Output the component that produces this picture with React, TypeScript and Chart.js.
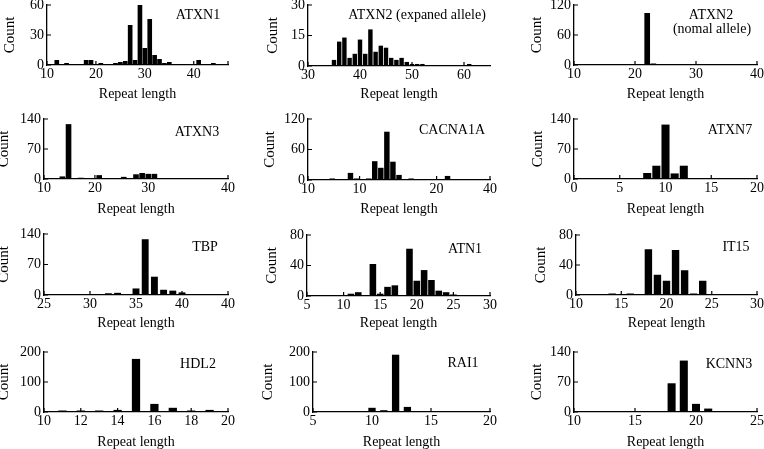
import React, { useEffect, useRef } from 'react';
import { Chart, registerables } from 'chart.js';
Chart.register(...registerables);

// ---------------- data ----------------
const atxn1Len = [12, 14, 18, 19, 21, 24, 25, 26, 27, 28, 29, 30, 31, 32, 33, 34, 35, 41, 44];
const atxn1Cnt = [5, 2, 5, 5, 2, 2, 3, 4, 40, 5, 60, 17, 46, 10, 6, 2, 3, 5, 2];

const atxn2eLen = [35, 36, 37, 38, 39, 40, 41, 42, 43, 44, 45, 46, 47, 48, 49, 50, 51, 52, 61];
const atxn2eCnt = [3, 12, 14, 4, 6, 13, 6, 18, 7, 10, 9, 4, 3, 4, 2, 1, 1, 1, 1];

const atxn2nLen = [15, 16, 17, 18, 19, 21, 22, 23, 26];
const atxn2nCnt = [2, 2, 1, 1, 2, 1, 104, 3, 1];

const atxn3Len = [13, 14, 16, 19, 20, 23, 25, 26, 27, 28, 31, 34, 36];
const atxn3Cnt = [6, 128, 3, 9, 2, 5, 11, 14, 12, 12, 2, 2, 2];

const cacnaLen = [4, 7, 8, 9, 10, 11, 12, 13, 14, 15, 17, 22, 23, 25];
const cacnaCnt = [3, 14, 3, 2, 3, 37, 24, 95, 36, 10, 3, 2, 8, 2];

const atxn7Len = [8, 9, 10, 11, 12, 13];
const atxn7Cnt = [14, 31, 127, 13, 31, 2];

const tbpLen = [27, 31, 32, 33, 34, 35, 36, 37, 38, 39, 40, 41, 42];
const tbpCnt = [1, 1, 4, 5, 1, 15, 128, 42, 12, 10, 6, 2, 2];

const atn1Len = [11, 12, 14, 15, 16, 17, 18, 19, 20, 21, 22, 23, 24, 25];
const atn1Cnt = [3, 5, 42, 3, 12, 14, 1, 62, 20, 34, 21, 7, 5, 2];

const it15Len = [13, 14, 16, 17, 18, 19, 20, 21, 22, 23, 24, 25, 27, 28];
const it15Cnt = [1, 2, 2, 1, 61, 27, 19, 60, 33, 2, 19, 1, 1, 1];

const hdl2Len = [11, 12, 13, 14, 15, 16, 17, 18, 19];
const hdl2Cnt = [5, 5, 5, 7, 177, 27, 14, 5, 7];

const rai1Len = [9, 10, 11, 12, 13, 18];
const rai1Cnt = [1, 14, 6, 191, 17, 1];

const kcnn3Len = [12, 13, 14, 17, 18, 19, 20, 21, 22];
const kcnn3Cnt = [1, 1, 1, 1, 67, 120, 19, 8, 2];

// tick positions (axis values) and the label printed at each, as in the source figure
const atxn1XTicks = [10, 20, 30, 40, 47];
const atxn1XLabels = ['10', '20', '30', '40', ''];
const atxn2eXTicks = [30, 40, 50, 60];
const atxn2eXLabels = ['30', '40', '50', '60'];
const atxn2nXTicks = [10, 20, 30, 40];
const atxn2nXLabels = ['10', '20', '30', '40'];
const atxn3XTicks = [10, 18.3, 27, 40];
const atxn3XLabels = ['10', '20', '30', '40'];
const cacnaXTicks = [0, 8.5, 21.2, 30];
const cacnaXLabels = ['10', '10', '20', '40'];
const atxn7XTicks = [0, 5, 10, 15, 20];
const atxn7XLabels = ['0', '5', '10', '15', '20'];
const tbpXTicks = [25, 30, 35, 40, 45];
const tbpXLabels = ['25', '30', '35', '40', '40'];
const atn1XTicks = [5, 10, 15, 20, 25, 30];
const atn1XLabels = ['5', '10', '15', '20', '25', '30'];
const it15XTicks = [10, 15, 20, 25, 30];
const it15XLabels = ['10', '15', '20', '25', '30'];
const hdl2XTicks = [10, 12, 14, 16, 18, 20];
const hdl2XLabels = ['10', '12', '14', '16', '18', '20'];
const rai1XTicks = [5, 10, 15, 20];
const rai1XLabels = ['5', '10', '15', '20'];
const kcnn3XTicks = [10, 15, 20, 25];
const kcnn3XLabels = ['10', '15', '20', '25'];

const xTitle = 'Repeat length';
const yTitle = 'Count';

// ---------------- panels ----------------
type Panel = {
  name: string[];
  len: number[];
  cnt: number[];
  xMin: number;
  xMax: number;
  xTicks: number[];
  xLabels: string[];
  yMax: number;
  bar: number;
  // layout (absolute page pixels)
  g: { ax: number; right: number; top: number; bottom: number; cx: number; ty: number; lx: number[]; ly: number[] };
};

const panels: Panel[] = [
  { name: ['ATXN1'], len: atxn1Len, cnt: atxn1Cnt, xMin: 10, xMax: 47, xTicks: atxn1XTicks, xLabels: atxn1XLabels, yMax: 60, bar: 0.95,
    g: { ax: 47, right: 228, top: 5, bottom: 65, cx: 10, ty: 94, lx: [198], ly: [15] } },
  { name: ['ATXN2 (expaned allele)'], len: atxn2eLen, cnt: atxn2eCnt, xMin: 30, xMax: 65, xTicks: atxn2eXTicks, xLabels: atxn2eXLabels, yMax: 30, bar: 0.85,
    g: { ax: 308, right: 490, top: 5, bottom: 66, cx: 273, ty: 94, lx: [417], ly: [15] } },
  { name: ['ATXN2', '(nomal allele)'], len: atxn2nLen, cnt: atxn2nCnt, xMin: 10, xMax: 40, xTicks: atxn2nXTicks, xLabels: atxn2nXLabels, yMax: 120, bar: 0.93,
    g: { ax: 574, right: 757, top: 5, bottom: 65, cx: 537, ty: 94, lx: [711, 712], ly: [15, 29] } },
  { name: ['ATXN3'], len: atxn3Len, cnt: atxn3Cnt, xMin: 10, xMax: 40, xTicks: atxn3XTicks, xLabels: atxn3XLabels, yMax: 140, bar: 0.92,
    g: { ax: 44, right: 228, top: 119, bottom: 179, cx: 4, ty: 209, lx: [197], ly: [132] } },
  { name: ['CACNA1A'], len: cacnaLen, cnt: cacnaCnt, xMin: 0, xMax: 30, xTicks: cacnaXTicks, xLabels: cacnaXLabels, yMax: 120, bar: 0.9,
    g: { ax: 308, right: 490, top: 119, bottom: 180, cx: 270, ty: 209, lx: [452], ly: [130] } },
  { name: ['ATXN7'], len: atxn7Len, cnt: atxn7Cnt, xMin: 0, xMax: 20, xTicks: atxn7XTicks, xLabels: atxn7XLabels, yMax: 140, bar: 0.88,
    g: { ax: 574, right: 757, top: 119, bottom: 179, cx: 538, ty: 209, lx: [730], ly: [130] } },
  { name: ['TBP'], len: tbpLen, cnt: tbpCnt, xMin: 25, xMax: 45, xTicks: tbpXTicks, xLabels: tbpXLabels, yMax: 140, bar: 0.75,
    g: { ax: 44, right: 228, top: 234, bottom: 295, cx: 4, ty: 323, lx: [205], ly: [247] } },
  { name: ['ATN1'], len: atn1Len, cnt: atn1Cnt, xMin: 5, xMax: 30, xTicks: atn1XTicks, xLabels: atn1XLabels, yMax: 80, bar: 0.9,
    g: { ax: 307, right: 490, top: 235, bottom: 296, cx: 272, ty: 323, lx: [465], ly: [249] } },
  { name: ['IT15'], len: it15Len, cnt: it15Cnt, xMin: 10, xMax: 30, xTicks: it15XTicks, xLabels: it15XLabels, yMax: 80, bar: 0.82,
    g: { ax: 576, right: 757, top: 235, bottom: 295, cx: 541, ty: 323, lx: [736], ly: [247] } },
  { name: ['HDL2'], len: hdl2Len, cnt: hdl2Cnt, xMin: 10, xMax: 20, xTicks: hdl2XTicks, xLabels: hdl2XLabels, yMax: 200, bar: 0.45,
    g: { ax: 44, right: 228, top: 352, bottom: 412, cx: 4, ty: 442, lx: [198], ly: [364] } },
  { name: ['RAI1'], len: rai1Len, cnt: rai1Cnt, xMin: 5, xMax: 20, xTicks: rai1XTicks, xLabels: rai1XLabels, yMax: 200, bar: 0.62,
    g: { ax: 313, right: 490, top: 352, bottom: 412, cx: 268, ty: 442, lx: [463], ly: [363] } },
  { name: ['KCNN3'], len: kcnn3Len, cnt: kcnn3Cnt, xMin: 10, xMax: 25, xTicks: kcnn3XTicks, xLabels: kcnn3XLabels, yMax: 140, bar: 0.66,
    g: { ax: 574, right: 757, top: 352, bottom: 412, cx: 537, ty: 442, lx: [729], ly: [364] } },
];

const FAMILY = "'Liberation Serif', 'Times New Roman', Times, serif";
const TICK_FONT = { family: FAMILY, size: 14 };
const XT_FONT = { family: FAMILY, size: 14 };
const YT_FONT = { family: FAMILY, size: 15 };
const NAME_FONT = `14px ${FAMILY}`;

function geometry(p: Panel) {
  const left = Math.round(p.g.cx - 9);
  const top = p.g.top - 14;
  const bottom = Math.round(p.g.ty + 11);
  const right = p.g.right + 14;
  return { left, top, width: right - left, height: bottom - top };
}

const innerTicks = {
  id: 'innerTicks',
  afterDatasetsDraw(chart: any) {
    const { ctx, scales } = chart;
    const x = scales.x;
    const y = scales.y;
    ctx.save();
    ctx.strokeStyle = '#000';
    ctx.lineWidth = 1.2;
    ctx.beginPath();
    x.ticks.forEach((t: any) => {
      const px = x.getPixelForValue(t.value);
      ctx.moveTo(px, y.bottom);
      ctx.lineTo(px, y.bottom - 4);
    });
    y.ticks.forEach((t: any) => {
      const py = y.getPixelForValue(t.value);
      ctx.moveTo(x.left, py);
      ctx.lineTo(x.left + 4, py);
    });
    ctx.stroke();
    ctx.restore();
  },
};

function PanelChart({ p }: { p: Panel }) {
  const ref = useRef<HTMLCanvasElement | null>(null);
  const geo = geometry(p);
  useEffect(() => {
    if (!ref.current) return;
    const padTop = p.g.top - geo.top;
    const padRight = geo.left + geo.width - p.g.right;
    const yWidth = p.g.ax - geo.left;
    const xHeight = geo.top + geo.height - p.g.bottom;
    const namePlugin = {
      id: 'nameLabel',
      afterDraw(chart: any) {
        const ctx = chart.ctx;
        ctx.save();
        ctx.fillStyle = '#000';
        ctx.font = NAME_FONT;
        ctx.textAlign = 'center';
        ctx.textBaseline = 'middle';
        p.name.forEach((line, i) => {
          ctx.fillText(line, p.g.lx[i] - geo.left, p.g.ly[i] - geo.top);
        });
        ctx.restore();
      },
    };
    const chart = new Chart(ref.current, {
      type: 'bar',
      data: {
        datasets: [
          {
            data: p.len.map((v, i) => ({ x: v, y: p.cnt[i] })),
            backgroundColor: '#000',
            borderWidth: 0,
            barPercentage: p.bar,
            categoryPercentage: 1,
          },
        ],
      },
      options: {
        responsive: false,
        animation: false,
        events: [],
        layout: { padding: { top: padTop, right: padRight, bottom: 0, left: 0 } },
        plugins: { legend: { display: false }, tooltip: { enabled: false } },
        scales: {
          x: {
            type: 'linear',
            min: p.xMin,
            max: p.xMax,
            offset: false,
            afterBuildTicks: (s: any) => {
              s.ticks = p.xTicks.map((v) => ({ value: v }));
            },
            afterFit: (s: any) => {
              s.height = xHeight;
            },
            ticks: {
              autoSkip: false,
              maxRotation: 0,
              padding: 1,
              color: '#000',
              font: TICK_FONT,
              callback: (_v: any, i: number) => p.xLabels[i],
            },
            grid: { display: false, drawTicks: false },
            border: { display: true, color: '#000', width: 1.3 },
            title: { display: true, text: xTitle, color: '#000', font: XT_FONT, padding: { top: 0, bottom: 2 } },
          },
          y: {
            type: 'linear',
            min: 0,
            max: p.yMax,
            afterBuildTicks: (s: any) => {
              s.ticks = [0, p.yMax / 2, p.yMax].map((v) => ({ value: v }));
            },
            afterFit: (s: any) => {
              s.width = yWidth;
            },
            ticks: { padding: 3, color: '#000', font: TICK_FONT },
            grid: { display: false, drawTicks: false },
            border: { display: true, color: '#000', width: 1.3 },
            title: { display: true, text: yTitle, color: '#000', font: YT_FONT, padding: { top: 0, bottom: 0 } },
          },
        },
      },
      plugins: [innerTicks, namePlugin],
    } as any);
    return () => chart.destroy();
  }, []);
  return (
    <canvas
      ref={ref}
      width={geo.width}
      height={geo.height}
      style={{ position: 'absolute', left: geo.left, top: geo.top, width: geo.width, height: geo.height }}
    />
  );
}

export default function App() {
  return (
    <div style={{ position: 'fixed', left: 0, top: 0, width: 764, height: 449, overflow: 'hidden', background: '#fff' }}>
      {panels.map((p, i) => (
        <PanelChart key={i} p={p} />
      ))}
    </div>
  );
}
